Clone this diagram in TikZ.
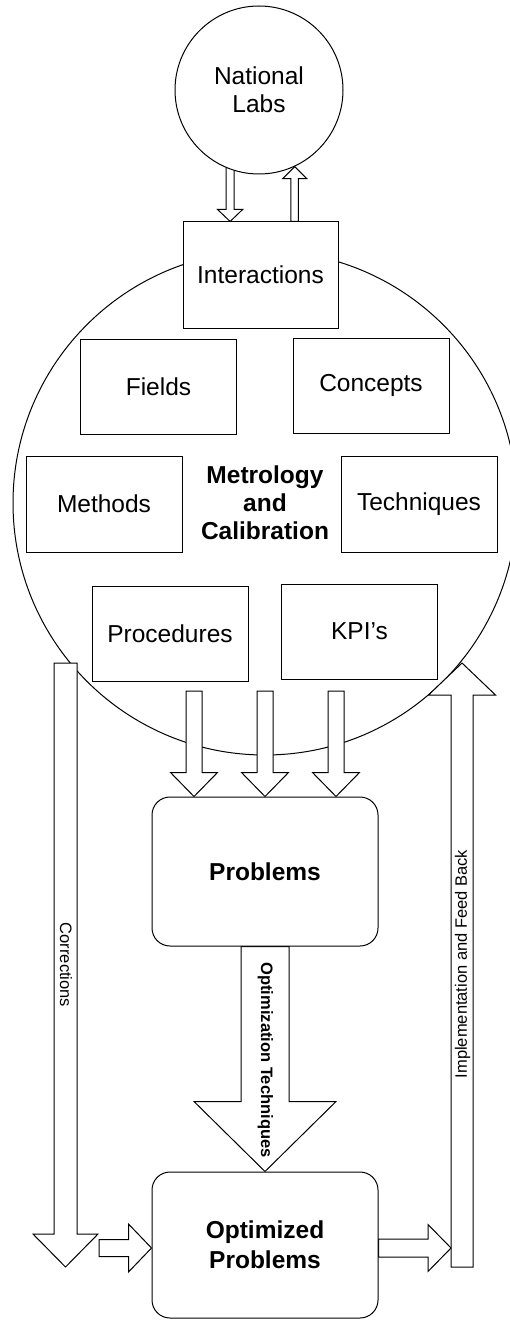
\documentclass[tikz,border=0pt]{standalone}
\usepackage{fontspec}
\setmainfont{Liberation Sans}
\usetikzlibrary{calc}
\pgfdeclarelayer{bg}
\pgfdeclarelayer{mid}
\pgfsetlayers{bg,mid,main}
% vertical block arrow: #1 start, #2 tip, #3 shaft half width, #4 head half width, #5 head length
\newcommand\vbarrow[5]{%
  \path[barrow] let \p1=(#1),\p2=(#2),\p3=($(#2)!#5!(#1)$) in
    (\x2-#3,\y1) -- (\x2-#3,\y3) -- (\x2-#4,\y3) -- (\x2,\y2) --
    (\x2+#4,\y3) -- (\x2+#3,\y3) -- (\x2+#3,\y1) -- cycle;}
% horizontal block arrow
\newcommand\hbarrow[5]{%
  \path[barrow] let \p1=(#1),\p2=(#2),\p3=($(#2)!#5!(#1)$) in
    (\x1,\y2-#3) -- (\x3,\y2-#3) -- (\x3,\y2-#4) -- (\x2,\y2) --
    (\x3,\y2+#4) -- (\x3,\y2+#3) -- (\x1,\y2+#3) -- cycle;}
\begin{document}
\begin{tikzpicture}[x=1pt,y=-1pt,
  every node/.style={line width=1pt},
  box/.style={draw,fill=white,minimum width=156pt,minimum height=95pt,inner sep=0pt,
    font=\fontsize{24.5}{28}\selectfont,align=center},
  rbox/.style={box,rounded corners=18pt,minimum width=226pt,font=\fontsize{24.5}{30}\selectfont\bfseries},
  barrow/.style={draw,line width=1pt,fill=white,line join=miter},
  lab/.style={inner sep=0pt,font=\fontsize{16.5}{19}\selectfont}]
\useasboundingbox (0,0) rectangle (510,1321);
\clip (0,0) rectangle (510,1321);

% background and big circle
\begin{pgfonlayer}{bg}
\fill[white] (0,0) rectangle (510,1321);
\node[circle,draw,minimum size=504pt,inner sep=0pt,align=center,
  font=\fontsize{24.5}{28}\selectfont\bfseries] (mc) at (265,503) {Metrology\\and\\Calibration};
\end{pgfonlayer}

% nodes
\node[circle,draw,fill=white,minimum size=168pt,inner sep=0pt,align=center,
  font=\fontsize{24.5}{28}\selectfont] (labs) at (259,90) {National\\Labs};
\node[box,minimum width=155pt,minimum height=106pt] (inter) at (260.5,275) {Interactions};
\node[box] (fields) at (158.5,386.5) {Fields};
\node[box] (concepts) at (371,385.5) {Concepts};
\node[box,minimum height=96pt] (methods) at (104,504) {Methods};
\node[box,minimum height=96pt] (techniques) at (419,504) {Techniques};
\node[box] (procedures) at (170,633.5) {Procedures};
\node[box] (kpis) at (359.5,631.5) {KPI’s};
\node[rbox,minimum height=149pt] (problems) at (265,871.5) {Problems};
\node[rbox,minimum height=146pt] (optimized) at (265,1245) {Optimized\\Problems};

% coordinates for connector ends
\coordinate (dn1) at ($(labs.-110)+(0,-20)$);
\coordinate (up1) at (labs.-65);
\coordinate (p1) at (194,691);
\coordinate (p2) at (265,691);
\coordinate (p3) at (336,691);
\coordinate (corrS) at (65.5,663);
\coordinate (corrE) at (65.5,1267);
\coordinate (implS) at (462,1267);
\coordinate (implE) at (462,663);
\coordinate (c2) at (99,1248);
\coordinate (implL) at (451,1248);

\begin{pgfonlayer}{mid}
\vbarrow{dn1}{dn1 |- inter.north}{4pt}{12.5pt}{12pt}
\vbarrow{up1 |- inter.north}{up1}{3.75pt}{12pt}{12pt}
\vbarrow{p1}{p1 |- problems.north}{8pt}{23.5pt}{24pt}
\vbarrow{p2}{p2 |- problems.north}{8pt}{23.5pt}{24pt}
\vbarrow{p3}{p3 |- problems.north}{8pt}{23.5pt}{24pt}
\vbarrow{problems.south}{optimized.north}{24pt}{71pt}{70pt}
\vbarrow{corrS}{corrE}{11.5pt}{32.5pt}{33pt}
\vbarrow{implS}{implE}{11pt}{33.5pt}{32pt}
\hbarrow{c2}{optimized.west |- c2}{8.5pt}{24pt}{23pt}
\hbarrow{optimized.east |- implL}{implL}{9pt}{23.5pt}{23pt}
\end{pgfonlayer}

% arrow labels
\node[lab,rotate=-90] (lcorr) at (66,965) {Corrections};
\node[lab,rotate=-90,font=\fontsize{16.5}{19}\selectfont\bfseries] (lopt) at (265.5,1060) {Optimization Techniques};
\node[lab,rotate=90] (limpl) at (462.5,964) {Implementation and Feed Back};
\end{tikzpicture}
\end{document}
